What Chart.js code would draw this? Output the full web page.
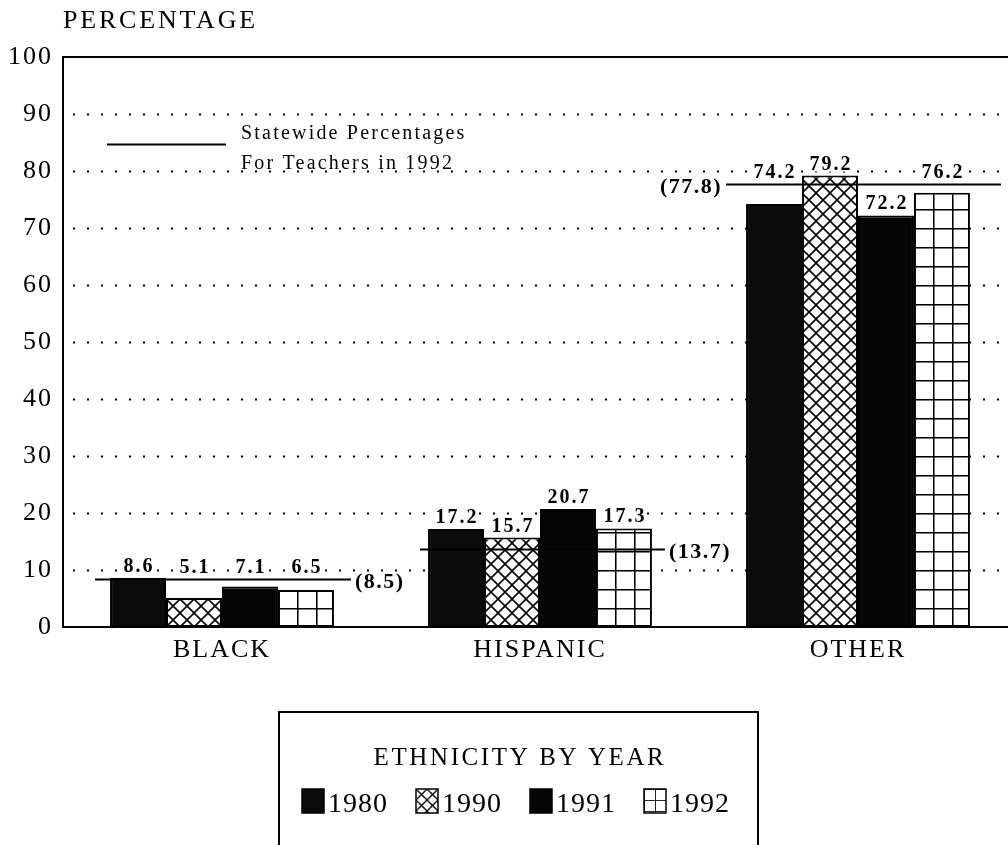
<!DOCTYPE html>
<html><head><meta charset="utf-8">
<script src="https://cdn.jsdelivr.net/npm/chart.js@4.4.0/dist/chart.umd.min.js"></script>
<style>
html,body{margin:0;padding:0;background:#fff;overflow:hidden;width:1008px;height:845px}
#wrap{position:absolute;left:0;top:0;width:1020px;height:845px}
</style>
</head><body><div id="wrap"><canvas id="c" width="1020" height="845"></canvas></div>
<script>
// ---------- data ----------
const categories = ['BLACK', 'HISPANIC', 'OTHER'];
const years = ['1980', '1990', '1991', '1992'];
const values1980 = [8.6, 17.2, 74.2];
const values1990 = [5.1, 15.7, 79.2];
const values1991 = [7.1, 20.7, 72.2];
const values1992 = [6.5, 17.3, 76.2];
const statewide1992 = [8.5, 13.7, 77.8];
const statewideLabels = ['(8.5)', '(13.7)', '(77.8)'];
const yTicks = [0, 10, 20, 30, 40, 50, 60, 70, 80, 90, 100];
const axisTitle = 'PERCENTAGE';
const legendTitle = 'ETHNICITY BY YEAR';
const refLegendLines = ['Statewide Percentages', 'For Teachers in 1992'];

// ---------- style ----------
const SERIF = '"Liberation Serif", "DejaVu Serif", serif';
const CAT_PCT = 0.704;
const refStyle = [
  { extL: 15, extR: 17, side: 'right' },
  { extL: 8, extR: 13, side: 'right' },
  { extL: 20, extR: 31, side: 'left' }
];

function makeTile(kind) {
  const c = document.createElement('canvas');
  const s = kind === 'cross' ? 14 : 19;
  c.width = s; c.height = s;
  const g = c.getContext('2d');
  g.fillStyle = '#fff'; g.fillRect(0, 0, s, s);
  g.strokeStyle = '#000'; g.lineWidth = 1.6;
  g.beginPath();
  if (kind === 'cross') {
    g.moveTo(-2, -2); g.lineTo(s + 2, s + 2);
    g.moveTo(s + 2, -2); g.lineTo(-2, s + 2);
  } else {
    g.moveTo(0.75, 0); g.lineTo(0.75, s);
    g.moveTo(0, 0.75); g.lineTo(s, 0.75);
  }
  g.stroke();
  return c;
}
const tiles = { cross: makeTile('cross'), grid: makeTile('grid') };

function patternAt(ctx2d, kind, x, y, sc) {
  const p = ctx2d.createPattern(tiles[kind], 'repeat');
  const k = sc || 1;
  if (p.setTransform) p.setTransform(new DOMMatrix([k, 0, 0, k, x, y]));
  return p;
}

function barFill(kind) {
  return (c) => {
    const chart = c.chart;
    const xs = chart.scales.x, ys = chart.scales.y;
    if (c.type !== 'data' || !xs || !ys || !xs.width) return patternAt(chart.ctx, kind, 0, 0);
    const catW = xs.width / categories.length;
    const groupW = catW * CAT_PCT;
    const barW = groupW / years.length;
    const left = xs.getPixelForValue(c.dataIndex) - groupW / 2 + c.datasetIndex * barW;
    return patternAt(chart.ctx, kind, left, ys.getPixelForValue(0));
  };
}

const seriesValues = [values1980, values1990, values1991, values1992];
const seriesFill = ['#0b0b0b', barFill('cross'), '#050505', barFill('grid')];
const seriesKind = [null, 'cross', null, 'grid'];

const datasets = years.map((yr, i) => ({
  label: yr,
  data: seriesValues[i],
  backgroundColor: seriesFill[i],
  borderColor: '#000',
  borderWidth: 2,
  borderSkipped: false,
  categoryPercentage: CAT_PCT,
  barPercentage: 1.0
}));

function drawText(ctx, txt, x, y, font, spacing, align, baseline) {
  ctx.save();
  ctx.font = font;
  try { ctx.letterSpacing = spacing + 'px'; } catch (e) {}
  ctx.textAlign = align || 'left';
  ctx.textBaseline = baseline || 'alphabetic';
  ctx.fillStyle = '#000';
  ctx.fillText(txt, x, y);
  ctx.restore();
}
function textW(ctx, txt, font, spacing) {
  ctx.save(); ctx.font = font;
  try { ctx.letterSpacing = spacing + 'px'; } catch (e) {}
  const w = ctx.measureText(txt).width; ctx.restore(); return w;
}

const decor = {
  id: 'decor',
  beforeDraw(chart) {
    try { chart.ctx.letterSpacing = '2px'; } catch (e) {}
  },
  beforeDatasetsDraw(chart) {
    const { ctx, chartArea: a, scales: { y } } = chart;
    ctx.save();
    ctx.strokeStyle = '#000';
    ctx.lineWidth = 2;
    ctx.setLineDash([2, 12]);
    yTicks.forEach(v => {
      if (v === 0 || v === 100) return;
      const py = Math.round(y.getPixelForValue(v)) + 0.5;
      ctx.beginPath(); ctx.moveTo(a.left + 10, py); ctx.lineTo(a.right, py); ctx.stroke();
    });
    ctx.setLineDash([]);
    const top = Math.round(y.getPixelForValue(100));
    ctx.beginPath(); ctx.moveTo(a.left, top); ctx.lineTo(a.right, top); ctx.stroke();
    ctx.restore();
  },
  afterDatasetsDraw(chart) {
    const { ctx, scales: { x, y } } = chart;
    const catW = x.width / categories.length;
    const groupW = catW * CAT_PCT;
    const barW = groupW / years.length;
    const vFont = 'bold 20px ' + SERIF;
    // value labels
    categories.forEach((cat, ci) => {
      const cx = x.getPixelForValue(ci);
      const refY = y.getPixelForValue(statewide1992[ci]);
      seriesValues.forEach((vals, si) => {
        const v = vals[ci];
        const barTop = y.getPixelForValue(v);
        let anchor = barTop;
        if (refY < barTop && barTop - refY < 26) anchor = refY;
        const bx = cx - groupW / 2 + (si + 0.5) * barW;
        const txt = v.toFixed(1);
        const w = textW(ctx, txt, vFont, 2);
        const base = anchor - 6;
        ctx.save(); ctx.fillStyle = '#fff';
        ctx.fillRect(bx - w / 2 - 1, base - 14, w + 1, 16);
        ctx.restore();
        drawText(ctx, txt, bx + 1, base, vFont, 2, 'center');
      });
    });
    // statewide reference lines
    const rFont = 'bold 22px ' + SERIF;
    categories.forEach((cat, ci) => {
      const cx = x.getPixelForValue(ci);
      const st = refStyle[ci];
      const ry = Math.round(y.getPixelForValue(statewide1992[ci])) + 0.5;
      const x0 = cx - groupW / 2 - st.extL, x1 = cx + groupW / 2 + st.extR;
      ctx.save(); ctx.strokeStyle = '#000'; ctx.lineWidth = 2;
      ctx.beginPath(); ctx.moveTo(x0, ry); ctx.lineTo(x1, ry); ctx.stroke();
      ctx.restore();
      if (st.side === 'right') drawText(ctx, statewideLabels[ci], x1 + 4, ry + 3, rFont, 1.5, 'left', 'middle');
      else drawText(ctx, statewideLabels[ci], x0 - 4, ry + 3, rFont, 1.5, 'right', 'middle');
    });
    // in-plot key for the statewide line
    ctx.save(); ctx.strokeStyle = '#000'; ctx.lineWidth = 2;
    ctx.beginPath(); ctx.moveTo(107, 144.5); ctx.lineTo(226, 144.5); ctx.stroke();
    ctx.restore();
    const kFont = '20px ' + SERIF;
    drawText(ctx, refLegendLines[0], 241, 139, kFont, 2.2, 'left');
    drawText(ctx, refLegendLines[1], 241, 169, kFont, 2.2, 'left');
  },
  afterDraw(chart) {
    const ctx = chart.ctx;
    drawText(ctx, axisTitle, 63, 28, '26px ' + SERIF, 2.8, 'left');
    // legend box
    ctx.save(); ctx.strokeStyle = '#000'; ctx.lineWidth = 2;
    ctx.strokeRect(279, 712, 479, 200);
    ctx.restore();
    drawText(ctx, legendTitle, 520, 765, '25px ' + SERIF, 2.6, 'center');
    const iFont = '28px ' + SERIF;
    const sw = 22, sh = 24, gapIn = 4, gapOut = 28;
    const widths = years.map(yv => textW(ctx, yv, iFont, 1));
    const total = widths.reduce((s, w) => s + sw + gapIn + w, 0) + gapOut * (years.length - 1);
    let lx = 516 - total / 2;
    years.forEach((yv, i) => {
      const fill = seriesFill[i];
      ctx.save();
      if (typeof fill === 'string') ctx.fillStyle = fill;
      else if (seriesKind[i] === 'cross') ctx.fillStyle = patternAt(ctx, 'cross', lx, 789, 11 / 14);
      else ctx.fillStyle = patternAt(ctx, 'grid', lx, 789, 11 / 19);
      ctx.fillRect(lx, 789, sw, sh);
      ctx.strokeStyle = '#000'; ctx.lineWidth = 1.5;
      ctx.strokeRect(lx, 789, sw, sh);
      ctx.restore();
      drawText(ctx, yv, lx + sw + gapIn, 812, iFont, 1, 'left');
      lx += sw + gapIn + widths[i] + gapOut;
    });
  }
};

new Chart(document.getElementById('c'), {
  type: 'bar',
  data: { labels: categories, datasets },
  options: {
    responsive: false,
    animation: false,
    devicePixelRatio: 1,
    layout: { padding: { top: 57, right: 3, bottom: 0, left: 0 } },
    plugins: { legend: { display: false }, tooltip: { enabled: false }, title: { display: false } },
    scales: {
      x: {
        grid: { display: false, drawTicks: false },
        border: { display: true, color: '#000', width: 2 },
        ticks: { color: '#000', font: { family: SERIF, size: 26 }, padding: 8 },
        afterFit(s) { s.height = 218; }
      },
      y: {
        min: 0, max: 100,
        grid: { display: false, drawTicks: false },
        border: { display: true, color: '#000', width: 2 },
        ticks: { stepSize: 10, color: '#000', font: { family: SERIF, size: 26 }, padding: 10 },
        afterBuildTicks(s) { s.ticks = yTicks.map(v => ({ value: v })); },
        afterFit(s) { s.width = 63; }
      }
    }
  },
  plugins: [decor]
});
</script>
</body></html>
